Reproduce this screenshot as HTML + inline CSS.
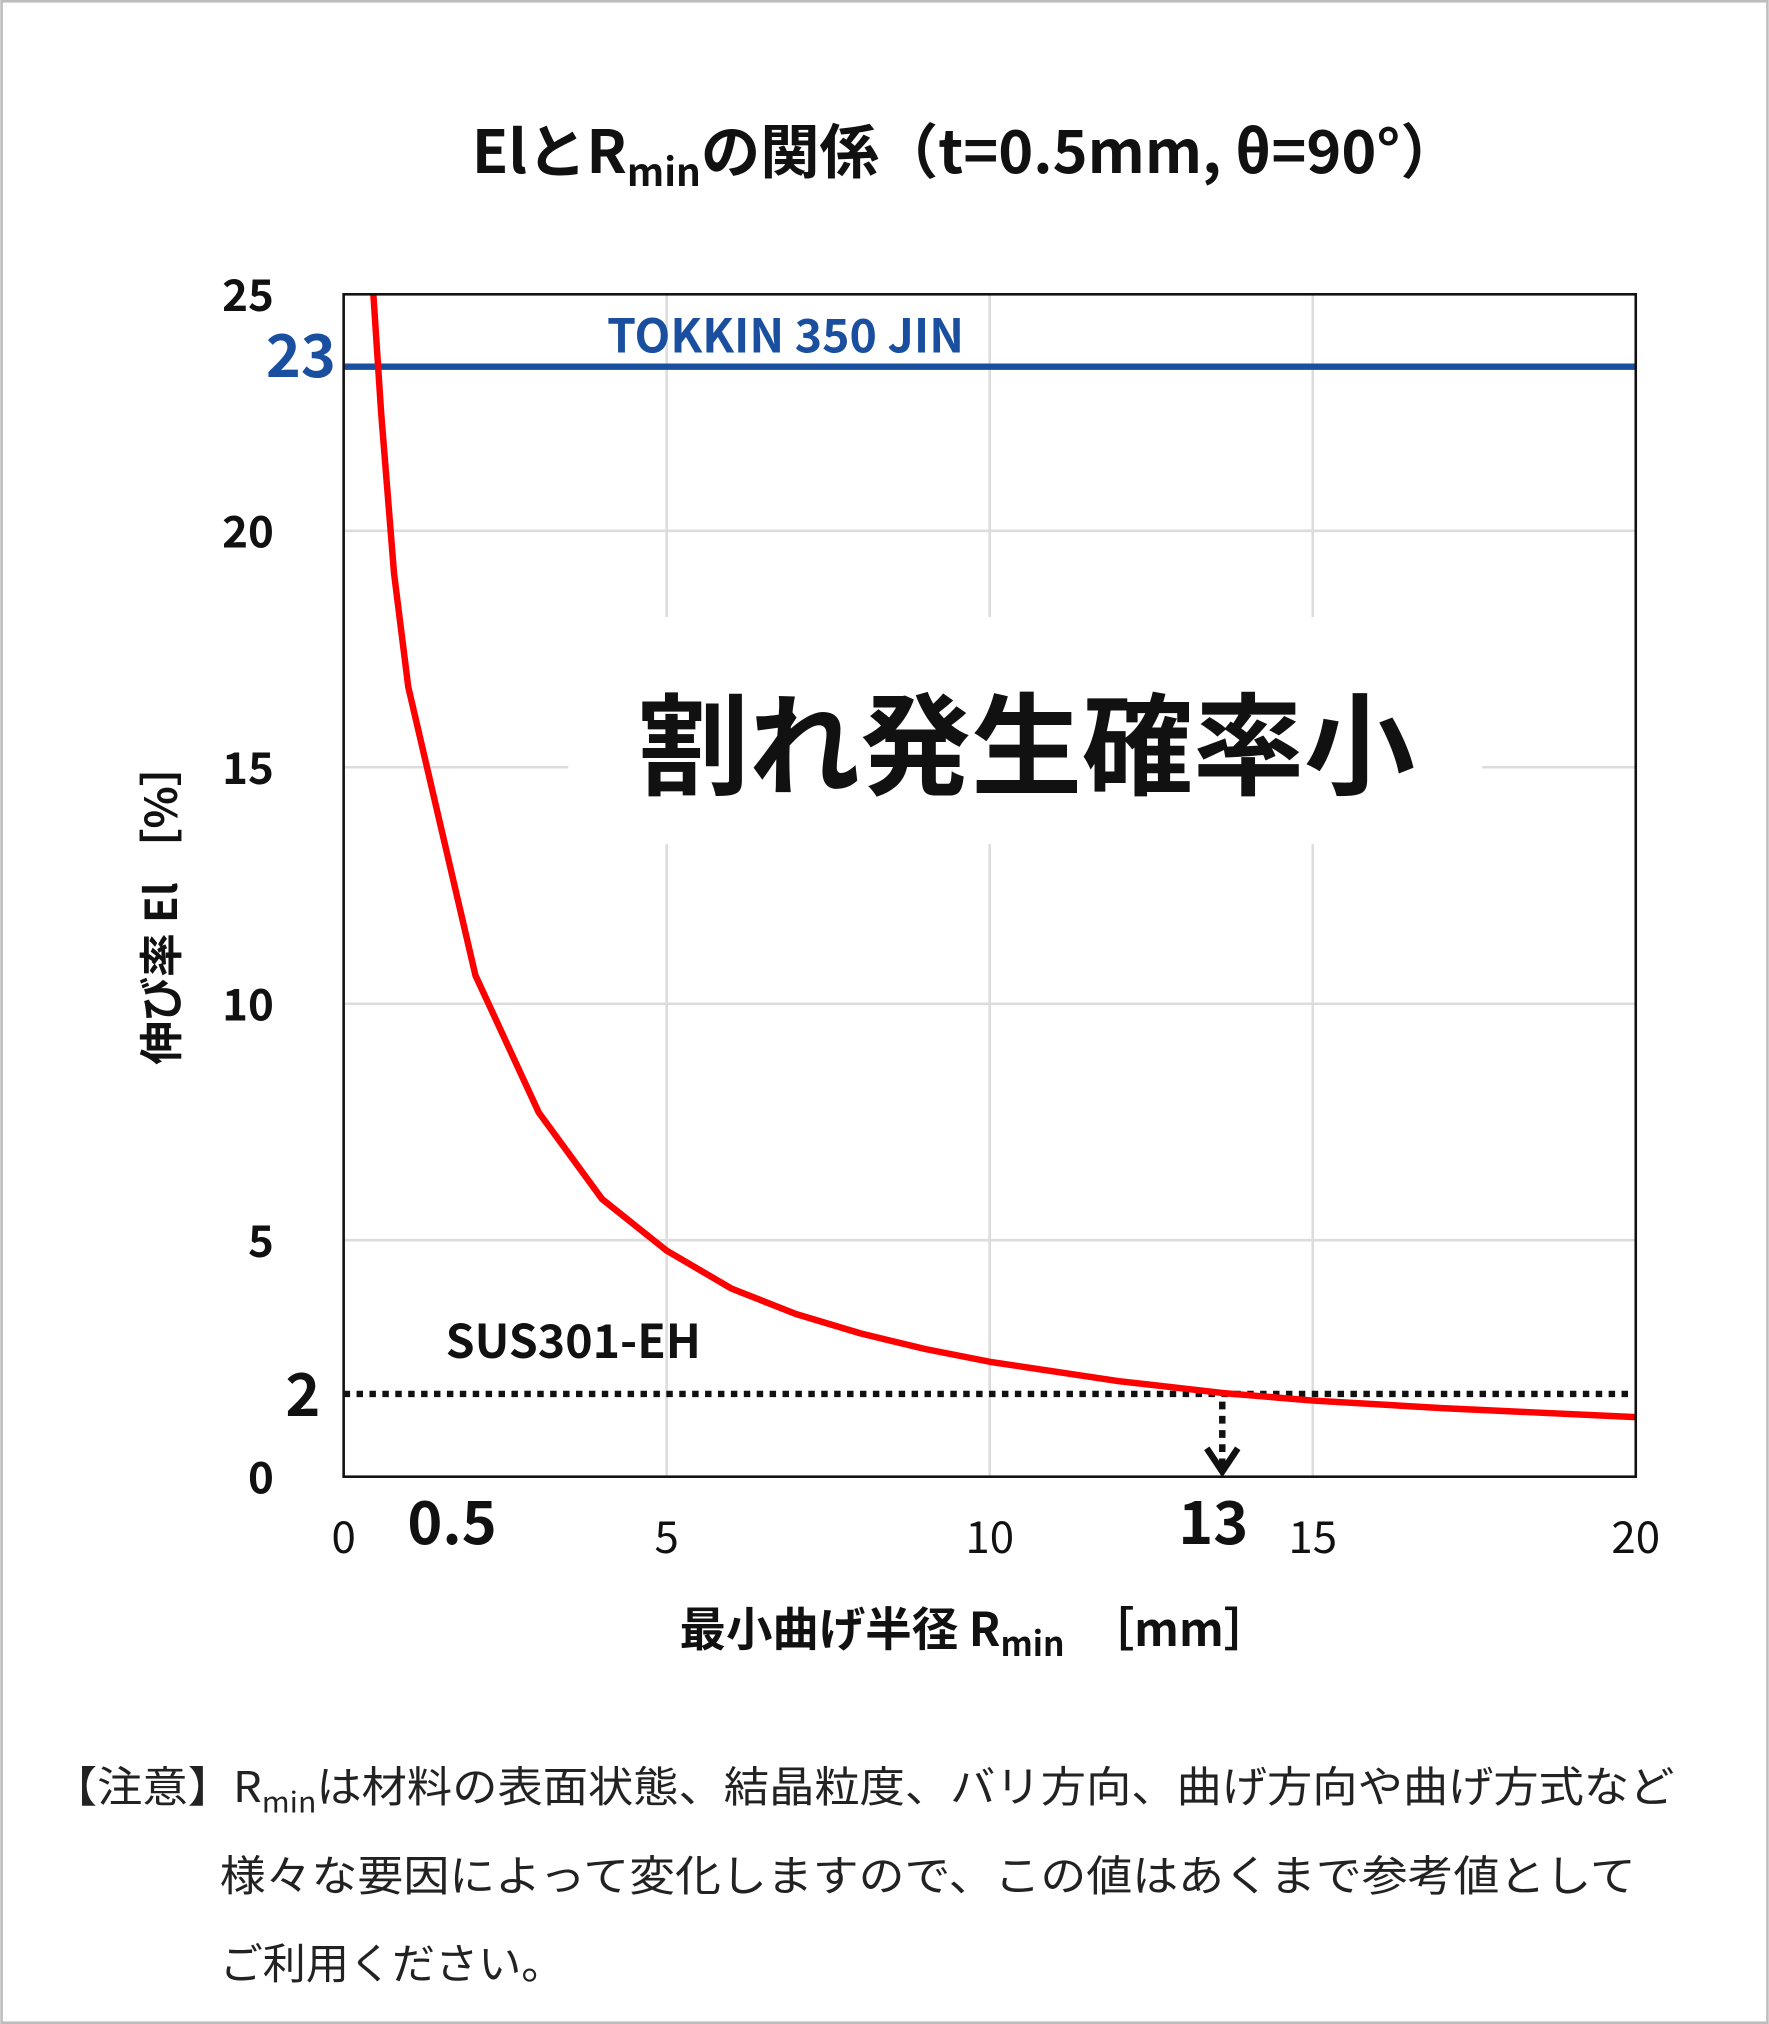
<!DOCTYPE html>
<html><head><meta charset="utf-8"><style>
html,body{margin:0;padding:0;background:#fff}
svg{display:block}
text{font-family:"Noto Sans CJK JP","Liberation Sans",sans-serif}
</style></head><body>
<svg width="1769" height="2024" viewBox="0 0 1370 1568" xmlns="http://www.w3.org/2000/svg">
<rect x="1" y="1" width="1368" height="1566" fill="#fff" stroke="#bdbdbd" stroke-width="2"/>
<text x="748" y="134" text-anchor="middle" font-size="46" font-weight="bold" fill="#111">ElとR<tspan font-size="30" dy="10">min</tspan><tspan dy="-10">の関係（t=0.5mm, θ=90°）</tspan></text>
<g id="grid"></g>
<rect x="440" y="478" width="708" height="176" fill="#fff"/>
<text x="795" y="609" text-anchor="middle" font-size="86" font-weight="bold" fill="#111">割れ発生確率小</text>
<g id="marks"></g>
<rect x="266" y="228" width="1001" height="916" fill="none" stroke="#111" stroke-width="2"/>
<g id="ticks"></g>
<text transform="translate(137,700) rotate(-90)" text-anchor="middle" font-size="34" font-weight="bold" fill="#111">伸び率 El ［%］</text>
<text x="755" y="1275" text-anchor="middle" font-size="36" font-weight="bold" fill="#111">最小曲げ半径 R<tspan font-size="26" dy="8">min</tspan><tspan dy="-8">　［mm］</tspan></text>
<g font-size="33" fill="#222">
<text x="40" y="1396" textLength="1257" lengthAdjust="spacingAndGlyphs">【注意】R<tspan font-size="22" dy="8">min</tspan><tspan dy="-8">は材料の表面状態、結晶粒度、バリ方向、曲げ方向や曲げ方式など</tspan></text>
<text x="170" y="1465" textLength="1097" lengthAdjust="spacingAndGlyphs">様々な要因によって変化しますので、この値はあくまで参考値として</text>
<text x="170" y="1533" textLength="267" lengthAdjust="spacingAndGlyphs">ご利用ください。</text>
</g>
</svg>
<script>
const xTicks=[0,5,10,15,20];
const yTicks=[0,5,10,15,20,25];
const curveX=[0.46,0.58,0.78,1.0,2.04,3.02,4.0,5,6,7,8,9,10,12,13.6,15,17,20];
const curveY=[25,22.5,19.1,16.7,10.6,7.7,5.87,4.78,3.98,3.44,3.03,2.7,2.43,2.02,1.77,1.61,1.45,1.26];
const jinValue=[23.47];
const susValue=[1.75];
const markX=[13.6];
const NS="http://www.w3.org/2000/svg";
const X0=266,X1=1267,Y0=1144,Y1=228;
const sx=v=>X0+(X1-X0)*v/20, sy=v=>Y0-(Y0-Y1)*v/25;
function mk(t,a,p){const e=document.createElementNS(NS,t);for(const k in a)e.setAttribute(k,a[k]);p.appendChild(e);return e;}
const grid=document.getElementById('grid'),marks=document.getElementById('marks'),ticks=document.getElementById('ticks');
xTicks.slice(1,-1).forEach(v=>{const l=mk('line',{x1:sx(v),x2:sx(v),y1:Y1,y2:Y0,stroke:'#dcdcdc','stroke-width':2},grid);
});
yTicks.slice(1,-1).forEach(v=>{const l=mk('line',{x1:X0,x2:X1,y1:sy(v),y2:sy(v),stroke:'#dcdcdc','stroke-width':2},grid);
});
xTicks.forEach(v=>{const t=mk('text',{x:sx(v),y:1203,'text-anchor':'middle','font-size':34,fill:'#111'},ticks);t.textContent=v;
});
yTicks.forEach(v=>{const t=mk('text',{x:212,y:sy(v)+13,'text-anchor':'end','font-size':34,'font-weight':'bold',fill:'#111'},ticks);t.textContent=v;
});
let t=mk('text',{x:350,y:1196,'text-anchor':'middle','font-size':46,'font-weight':'bold',fill:'#111'},ticks);t.textContent='0.5';

t=mk('text',{x:sx(markX[0])-7,y:1196,'text-anchor':'middle','font-size':46,'font-weight':'bold',fill:'#111'},ticks);t.textContent='13';

t=mk('text',{x:260,y:sy(jinValue[0])+8,'text-anchor':'end','font-size':46,'font-weight':'bold',fill:'#1a4fa0'},ticks);t.textContent='23';

t=mk('text',{x:248,y:sy(susValue[0])+17,'text-anchor':'end','font-size':46,'font-weight':'bold',fill:'#111'},ticks);t.textContent='2';

let l=mk('line',{x1:X0,x2:X1,y1:sy(jinValue[0]),y2:sy(jinValue[0]),stroke:'#1a4fa0','stroke-width':5},marks);

t=mk('text',{x:470,y:sy(jinValue[0])-11,'font-size':36,'font-weight':'bold',fill:'#1a4fa0'},marks);t.textContent='TOKKIN 350 JIN';

l=mk('line',{x1:X0,x2:1262,y1:sy(susValue[0]),y2:sy(susValue[0]),stroke:'#111','stroke-width':5,'stroke-dasharray':'5 5'},marks);

t=mk('text',{x:345,y:1052,'font-size':36,'font-weight':'bold',fill:'#111'},marks);t.textContent='SUS301-EH';

const pts=curveX.map((x,i)=>sx(x)+','+sy(curveY[i])).join(' ');
const c=mk('polyline',{points:pts,fill:'none',stroke:'#ff0000','stroke-width':5,'stroke-linejoin':'round'},marks);

const ax=sx(markX[0]);
l=mk('line',{x1:ax,x2:ax,y1:sy(susValue[0])+6,y2:Y0-6,stroke:'#111','stroke-width':5,'stroke-dasharray':'6 5'},marks);

const a=mk('polyline',{points:(ax-12)+','+(Y0-22)+' '+ax+','+(Y0-4)+' '+(ax+12)+','+(Y0-22),fill:'none',stroke:'#111','stroke-width':5},marks);

</script>
</body></html>
